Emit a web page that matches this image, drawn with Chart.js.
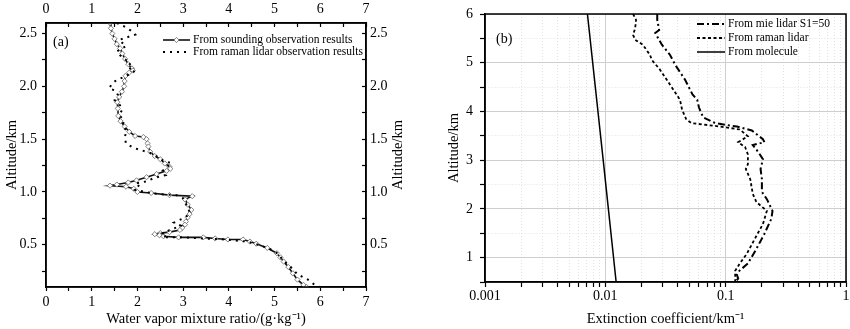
<!DOCTYPE html>
<html>
<head>
<meta charset="utf-8">
<script src="https://cdn.jsdelivr.net/npm/chart.js@4.4.0/dist/chart.umd.min.js"></script>
<style>
  html, body { margin: 0; padding: 0; background: #fff; }
  .panel { position: absolute; top: 0; width: 425px; height: 329px; }
  #boxA { left: 0; }
  #boxB { left: 425px; }
</style>
</head>
<body>
<div class="panel" id="boxA"><canvas id="chartA"></canvas></div>
<div class="panel" id="boxB"><canvas id="chartB"></canvas></div>
<script>
// (a) water vapour mixing ratio profiles, altitude in km
const soundAlt = [2.60,2.55,2.50,2.45,2.40,2.36,2.31,2.26,2.21,2.17,2.15,2.13,2.10,2.05,2.00,1.95,1.90,1.85,1.79,1.72,1.67,1.62,1.57,1.53,1.52,1.50,1.46,1.43,1.38,1.34,1.31,1.27,1.24,1.22,1.20,1.17,1.14,1.11,1.09,1.07,1.06,1.05,1.03,1.00,0.99,0.97,0.96,0.93,0.88,0.83,0.79,0.76,0.72,0.69,0.66,0.64,0.62,0.61,0.60,0.59,0.58,0.57,0.57,0.56,0.55,0.55,0.53,0.51,0.47,0.42,0.38,0.34,0.29,0.23,0.17,0.12,0.10];
const soundMix = [1.40,1.42,1.45,1.50,1.55,1.62,1.67,1.73,1.80,1.88,1.90,1.82,1.74,1.72,1.71,1.66,1.60,1.56,1.57,1.58,1.63,1.72,1.82,1.95,2.13,2.20,2.22,2.24,2.28,2.38,2.50,2.60,2.70,2.72,2.64,2.42,2.20,1.98,1.80,1.55,1.40,1.75,1.92,2.00,2.30,2.70,3.20,3.04,3.10,3.18,3.14,3.10,3.06,3.04,2.98,2.93,2.70,2.50,2.38,2.48,2.57,2.90,3.44,3.70,3.98,4.31,4.46,4.60,4.84,5.05,5.13,5.20,5.30,5.40,5.50,5.63,5.70];
const ramanAlt = [2.60,2.57,2.53,2.49,2.44,2.38,2.33,2.28,2.22,2.18,2.15,2.12,2.06,2.03,1.98,1.96,1.92,1.87,1.82,1.78,1.73,1.68,1.62,1.58,1.52,1.46,1.42,1.40,1.37,1.33,1.30,1.27,1.24,1.20,1.16,1.13,1.10,1.08,1.05,1.02,0.99,0.98,0.97,0.94,0.90,0.85,0.80,0.76,0.71,0.68,0.64,0.61,0.59,0.57,0.57,0.56,0.55,0.53,0.50,0.46,0.41,0.37,0.33,0.27,0.22,0.17,0.13,0.10];
const ramanMix = [1.55,1.70,1.85,1.95,1.60,1.75,1.55,1.65,1.85,1.78,1.95,1.86,1.55,1.45,1.38,1.52,1.57,1.50,1.62,1.67,1.60,1.70,1.68,1.77,1.72,1.75,1.90,2.05,2.28,2.45,2.55,2.75,2.65,2.55,2.62,2.35,2.20,1.95,2.05,1.95,2.30,2.45,2.85,3.00,3.05,3.10,3.15,3.05,2.80,2.95,2.72,2.55,2.65,2.55,3.00,3.45,3.90,4.40,4.65,4.90,5.10,5.15,5.25,5.40,5.50,5.73,5.85,5.98];
const mixTicks = [0,1,2,3,4,5,6,7];
const altTicksA = [0.5,1.0,1.5,2.0,2.5];

// (b) extinction coefficient profiles, km^-1
const mieAlt = [6.00,5.88,5.67,5.61,5.37,5.16,4.96,4.65,4.35,4.24,4.08,3.88,3.76,3.69,3.61,3.43,3.37,3.31,3.18,3.02,2.82,2.61,2.35,2.20,1.96,1.80,1.49,1.18,0.88,0.73,0.65,0.57,0.50];
const mieExt = [0.027,0.027,0.028,0.026,0.0295,0.0345,0.038,0.046,0.053,0.058,0.060,0.065,0.082,0.124,0.165,0.204,0.210,0.168,0.185,0.204,0.195,0.200,0.200,0.220,0.245,0.240,0.210,0.180,0.153,0.130,0.124,0.127,0.120];
const ramanExtAlt = [6.00,5.88,5.71,5.57,5.47,5.37,5.16,5.06,4.86,4.55,4.35,4.24,4.04,3.84,3.76,3.69,3.63,3.49,3.37,3.27,3.12,2.92,2.82,2.61,2.31,2.14,1.96,1.69,1.39,1.08,0.88,0.73,0.50];
const ramanExt = [0.017,0.018,0.0177,0.017,0.0177,0.0205,0.0235,0.0243,0.0284,0.0345,0.039,0.0417,0.0434,0.047,0.052,0.090,0.131,0.153,0.127,0.145,0.153,0.153,0.147,0.160,0.168,0.180,0.220,0.204,0.175,0.150,0.131,0.120,0.120];
const molAlt = [0.5,3.0,6.0];
const molExt = [0.0123,0.0096,0.0071];
const extTicks = [0.001,0.01,0.1,1];
const altTicksB = [1,2,3,4,5,6];

const serif = '"Liberation Serif", "Times New Roman", serif';
Chart.defaults.font.family = serif;
Chart.defaults.font.size = 14;
Chart.defaults.color = '#000';

const pts = (xs, ys) => ys.map((y, i) => ({x: xs[i], y: y}));
// half steps between labelled ticks get a tick mark but no label
const withHalves = (major) => {
  const out = major.slice();
  major.slice(1).forEach((v, i) => out.push((v + major[i]) / 2));
  return out.sort((p, q) => p - q);
};
const logStops = (major) => {
  const out = [];
  major.forEach((d, i) => {
    out.push(d);
    if (i < major.length - 1) for (let m = 2; m <= 9; m++) out.push(+(m * d).toPrecision(3));
  });
  return out;
};

// panel tag, in-plot key, frame, and the right-hand axis title
const notes = {
  id: 'notes',
  afterDatasetsDraw(chart, args, o) {
    const c = chart.ctx, a = chart.chartArea;
    c.save();
    c.strokeStyle = '#000';
    c.lineWidth = 1.5;
    c.strokeRect(a.left, a.top, a.right - a.left, a.bottom - a.top);
    c.fillStyle = '#000';
    c.textBaseline = 'middle';
    c.font = '14px ' + serif;
    c.fillText(o.tag, o.tagX, o.tagY);
    c.font = '11.5px ' + serif;
    chart.data.datasets.forEach((ds, i) => {
      const y = o.keyY + i * o.keyRow;
      c.setLineDash(ds.borderDash || []);
      c.lineWidth = ds.borderWidth;
      c.strokeStyle = ds.borderColor;
      c.beginPath();
      c.moveTo(o.keyX, y);
      c.lineTo(o.keyX + o.keyW, y);
      c.stroke();
      c.setLineDash([]);
      if (ds.pointRadius) {
        const cx = o.keyX + o.keyW / 2, r = ds.pointRadius;
        c.beginPath();
        c.moveTo(cx, y - r); c.lineTo(cx + r, y); c.lineTo(cx, y + r); c.lineTo(cx - r, y); c.closePath();
        c.fillStyle = '#fff'; c.fill();
        c.lineWidth = 0.8; c.strokeStyle = '#666'; c.stroke();
        c.fillStyle = '#000';
      }
      c.fillText(ds.label, o.keyX + o.keyW + 3, y);
    });
    if (o.sideTitle) {
      c.translate(o.sideX, (a.top + a.bottom) / 2);
      c.rotate(-Math.PI / 2);
      c.textAlign = 'center';
      c.font = '14.5px ' + serif;
      c.fillText(o.sideTitle, 0, 0);
    }
    c.restore();
  }
};

const tickGrid = (len) => ({drawOnChartArea: false, tickLength: len, tickColor: '#000', tickWidth: 1.2, tickBorderDash: []});
const edge = {color: '#000', width: 1.5};

new Chart(document.getElementById('chartA'), {
  type: 'line',
  data: {
    datasets: [
      {
        label: 'From sounding observation results',
        data: pts(soundMix, soundAlt),
        borderColor: '#111', borderWidth: 1.6,
        pointStyle: 'rectRot', pointRadius: 2.6,
        pointBackgroundColor: '#fff', pointBorderColor: '#666', pointBorderWidth: 0.8,
        order: 2
      },
      {
        label: 'From raman lidar observation results',
        data: pts(ramanMix, ramanAlt),
        borderColor: '#000', borderWidth: 2, borderDash: [2, 5],
        pointRadius: 0,
        order: 1
      }
    ]
  },
  options: {
    responsive: true,
    maintainAspectRatio: false,
    devicePixelRatio: 1,
    animation: false,
    layout: {padding: 0},
    plugins: {
      legend: {display: false},
      tooltip: {enabled: false},
      notes: {tag: '(a)', tagX: 53, tagY: 42, keyX: 163, keyY: 40, keyRow: 12, keyW: 27,
              sideTitle: 'Altitude/km', sideX: 398}
    },
    scales: {
      x: {
        type: 'linear', position: 'bottom', min: 0, max: 7,
        afterBuildTicks: s => { s.ticks = withHalves(mixTicks).map(v => ({value: v})); },
        afterFit: s => { s.height = 42; s.paddingLeft = 0; s.paddingRight = 0; },
        ticks: {autoSkip: false, maxRotation: 0, padding: 3,
                callback: v => mixTicks.includes(v) ? String(v) : ''},
        grid: tickGrid(4), border: edge,
        title: {display: true, text: 'Water vapor mixture ratio/(g·kg⁻¹)', font: {size: 14.5}, padding: {top: 0, bottom: 1}}
      },
      xTop: {
        type: 'linear', position: 'top', min: 0, max: 7,
        afterBuildTicks: s => { s.ticks = withHalves(mixTicks).map(v => ({value: v})); },
        afterFit: s => { s.height = 23; s.paddingLeft = 0; s.paddingRight = 0; },
        ticks: {autoSkip: false, maxRotation: 0, padding: 9,
                callback: v => mixTicks.includes(v) ? String(v) : ''},
        grid: tickGrid(-4), border: edge
      },
      y: {
        type: 'linear', position: 'left', min: 0.1, max: 2.6,
        afterBuildTicks: s => { s.ticks = withHalves([0].concat(altTicksA)).filter(v => v > 0.1).map(v => ({value: v})); },
        afterFit: s => { s.width = 46; s.paddingTop = 0; s.paddingBottom = 0; },
        ticks: {autoSkip: false, padding: 5,
                callback: v => altTicksA.includes(v) ? v.toFixed(1) : ''},
        grid: tickGrid(4), border: edge,
        title: {display: true, text: 'Altitude/km', font: {size: 14.5}, padding: {top: 3, bottom: 0}}
      },
      yRight: {
        type: 'linear', position: 'right', min: 0.1, max: 2.6,
        afterBuildTicks: s => { s.ticks = withHalves([0].concat(altTicksA)).filter(v => v > 0.1).map(v => ({value: v})); },
        afterFit: s => { s.width = 59; s.paddingTop = 0; s.paddingBottom = 0; },
        ticks: {autoSkip: false, padding: 8,
                callback: v => altTicksA.includes(v) ? v.toFixed(1) : ''},
        grid: tickGrid(-4), border: edge
      }
    }
  },
  plugins: [notes]
});

const isMajorExt = v => extTicks.includes(v);
new Chart(document.getElementById('chartB'), {
  type: 'line',
  data: {
    datasets: [
      {
        label: 'From mie lidar S1=50',
        data: pts(mieExt, mieAlt),
        borderColor: '#000', borderWidth: 2, borderDash: [7, 3, 2, 3],
        pointRadius: 0
      },
      {
        label: 'From raman lidar',
        data: pts(ramanExt, ramanExtAlt),
        borderColor: '#000', borderWidth: 1.8, borderDash: [3, 2.5],
        pointRadius: 0
      },
      {
        label: 'From molecule',
        data: pts(molExt, molAlt),
        borderColor: '#000', borderWidth: 1.5,
        pointRadius: 0
      }
    ]
  },
  options: {
    responsive: true,
    maintainAspectRatio: false,
    devicePixelRatio: 1,
    animation: false,
    layout: {padding: {top: 14, right: 4, left: 0, bottom: 0}},
    plugins: {
      legend: {display: false},
      tooltip: {enabled: false},
      notes: {tag: '(b)', tagX: 71, tagY: 39, keyX: 272, keyY: 24, keyRow: 14, keyW: 28}
    },
    scales: {
      x: {
        type: 'logarithmic', position: 'bottom', min: 0.001, max: 1,
        afterBuildTicks: s => { s.ticks = logStops(extTicks).map(v => ({value: v})); },
        afterFit: s => { s.height = 47; s.paddingLeft = 0; s.paddingRight = 0; },
        ticks: {autoSkip: false, maxRotation: 0, padding: 1,
                callback: v => isMajorExt(v) ? String(v) : ''},
        grid: {
          drawOnChartArea: true, tickLength: 5, tickColor: '#000', tickWidth: 1.2, tickBorderDash: [],
          color: c => c.tick && isMajorExt(c.tick.value) ? '#cfcfcf' : '#e2e2e2'
        },
        border: {color: '#000', width: 1.5, dash: c => c.tick && !isMajorExt(c.tick.value) ? [1, 2] : []},
        title: {display: true, text: 'Extinction coefficient/km⁻¹', font: {size: 14.5}, padding: {top: 0, bottom: 1}}
      },
      y: {
        type: 'linear', position: 'left', min: 0.5, max: 6,
        afterBuildTicks: s => { s.ticks = withHalves([0].concat(altTicksB)).filter(v => v >= 0.5).map(v => ({value: v})); },
        afterFit: s => { s.width = 60; s.paddingTop = 0; s.paddingBottom = 0; },
        ticks: {autoSkip: false, padding: 7,
                callback: v => altTicksB.includes(v) ? String(v) : ''},
        grid: {
          drawOnChartArea: true, tickLength: 5, tickColor: '#000', tickWidth: 1.2, tickBorderDash: [],
          color: c => c.tick && altTicksB.includes(c.tick.value) ? '#cfcfcf' : '#e2e2e2'
        },
        border: {color: '#000', width: 1.5, dash: c => c.tick && !altTicksB.includes(c.tick.value) ? [1, 2] : []},
        title: {display: true, text: 'Altitude/km', font: {size: 14.5}, padding: {top: 20, bottom: 0}}
      }
    }
  },
  plugins: [notes]
});
</script>
</body>
</html>
